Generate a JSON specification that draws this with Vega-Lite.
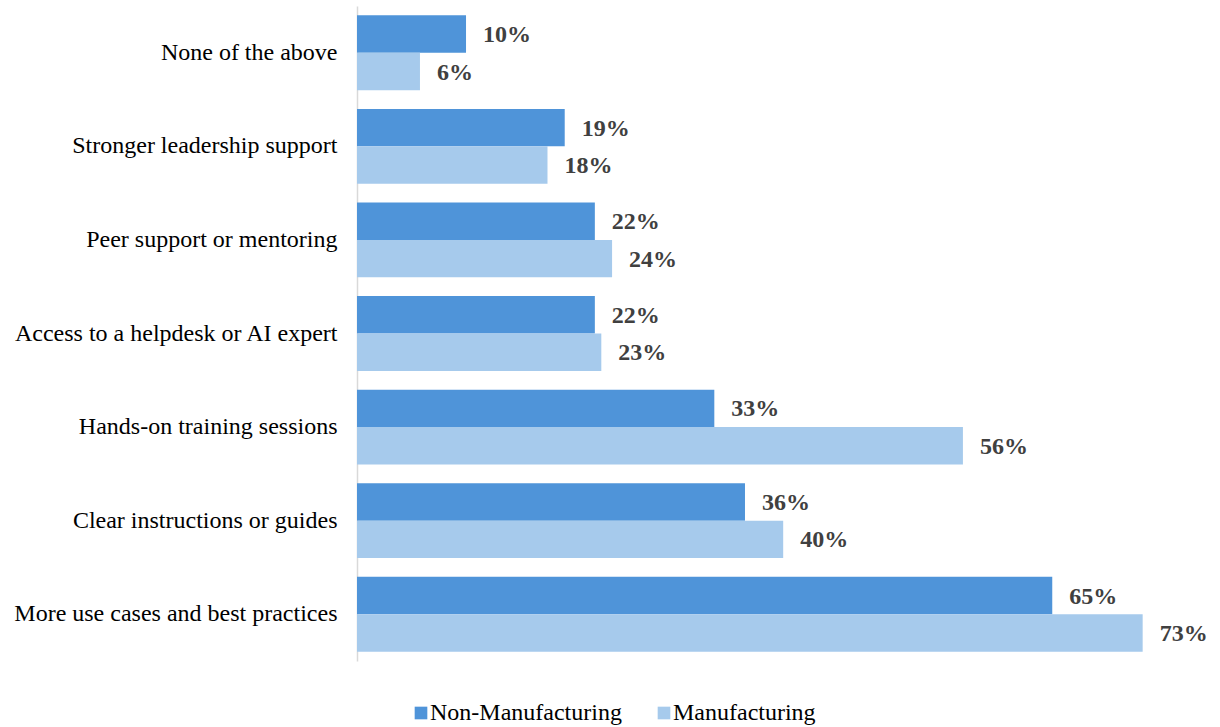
{
  "$schema": "https://vega.github.io/schema/vega-lite/v6.json",
  "autosize": "none",
  "width": 861,
  "height": 655,
  "padding": {"left": 357, "top": 6, "right": 2, "bottom": 66},
  "background": "white",
  "config": {
    "view": {"stroke": null},
    "font": "Liberation Serif"
  },
  "data": {
    "values": [
      {"category": "None of the above", "series": "Non-Manufacturing", "value": 0.1013},
      {"category": "None of the above", "series": "Manufacturing", "value": 0.0585},
      {"category": "Stronger leadership support", "series": "Non-Manufacturing", "value": 0.193},
      {"category": "Stronger leadership support", "series": "Manufacturing", "value": 0.177},
      {"category": "Peer support or mentoring", "series": "Non-Manufacturing", "value": 0.221},
      {"category": "Peer support or mentoring", "series": "Manufacturing", "value": 0.237},
      {"category": "Access to a helpdesk or AI expert", "series": "Non-Manufacturing", "value": 0.221},
      {"category": "Access to a helpdesk or AI expert", "series": "Manufacturing", "value": 0.227},
      {"category": "Hands-on training sessions", "series": "Non-Manufacturing", "value": 0.332},
      {"category": "Hands-on training sessions", "series": "Manufacturing", "value": 0.563},
      {"category": "Clear instructions or guides", "series": "Non-Manufacturing", "value": 0.3605},
      {"category": "Clear instructions or guides", "series": "Manufacturing", "value": 0.396},
      {"category": "More use cases and best practices", "series": "Non-Manufacturing", "value": 0.646},
      {"category": "More use cases and best practices", "series": "Manufacturing", "value": 0.73}
    ]
  },
  "encoding": {
    "y": {
      "field": "category",
      "type": "nominal",
      "sort": null,
      "scale": {"paddingInner": 0.2, "paddingOuter": 0.1},
      "axis": {
        "title": null,
        "ticks": false,
        "domainColor": "#d9d9d9",
        "domainWidth": 1.5,
        "labelFont": "Liberation Serif",
        "labelFontSize": 24,
        "labelColor": "#000000",
        "labelPadding": 20,
        "labelLimit": 400
      }
    },
    "yOffset": {
      "field": "series",
      "type": "nominal",
      "sort": ["Non-Manufacturing", "Manufacturing"]
    },
    "x": {
      "field": "value",
      "type": "quantitative",
      "scale": {"domain": [0, 0.8]},
      "axis": null
    }
  },
  "layer": [
    {
      "mark": {"type": "bar"},
      "encoding": {
        "color": {
          "field": "series",
          "type": "nominal",
          "sort": ["Non-Manufacturing", "Manufacturing"],
          "scale": {"domain": ["Non-Manufacturing", "Manufacturing"], "range": ["#4f94d9", "#a6caec"]},
          "legend": {
            "title": null,
            "orient": "none",
            "direction": "horizontal",
            "legendX": 52,
            "legendY": 695,
            "symbolType": "square",
            "symbolSize": 160,
            "symbolStrokeWidth": 0,
            "labelFont": "Liberation Serif",
            "labelFontSize": 24,
            "labelColor": "#000000",
            "labelOffset": -3,
            "labelLimit": 400,
            "columnPadding": 30
          }
        }
      }
    },
    {
      "mark": {
        "type": "text",
        "align": "left",
        "baseline": "middle",
        "dx": 17,
        "dy": 1,
        "font": "Liberation Serif",
        "fontSize": 24,
        "fontWeight": "bold",
        "color": "#404040"
      },
      "encoding": {
        "text": {"field": "value", "type": "quantitative", "format": ".0%"}
      }
    }
  ]
}
